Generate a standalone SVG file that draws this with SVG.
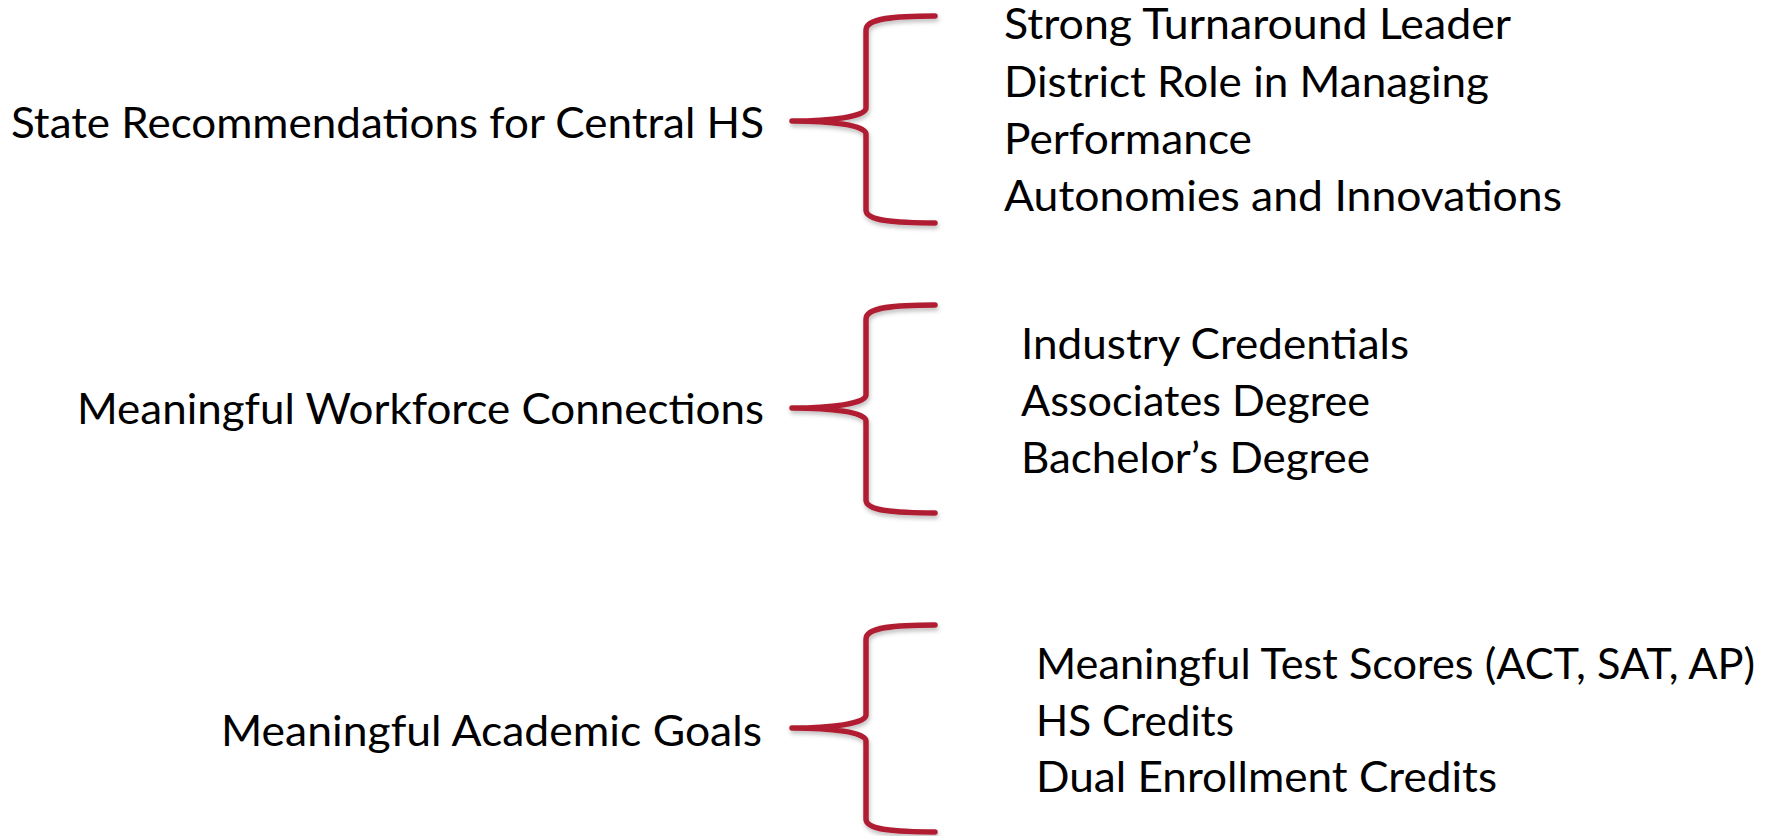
<svg xmlns="http://www.w3.org/2000/svg" width="1775" height="836" viewBox="0 0 1775 836">
  <style>
    .t { font-family: Lato, "Open Sans", "Liberation Sans", sans-serif; font-size: 43px; fill: #000; }
    .r { text-anchor: end; }
    .brace { fill: none; stroke: #B01F32; stroke-width: 5.5; stroke-linecap: round; stroke-linejoin: round; filter: url(#sh); }
  </style>
  <defs>
    <filter id="sh" x="-20%" y="-10%" width="140%" height="130%">
      <feDropShadow dx="1" dy="3" stdDeviation="2" flood-color="#000" flood-opacity="0.25"/>
    </filter>
  </defs>
  <rect width="1775" height="836" fill="#fff"/>

  <g id="connectors">
    <path class="brace" d="M935,16 C895,16 866,18 866,30 L866,108 C866,117 830,121 792,121 C830,121 866,125 866,134 L866,210 C866,221 895,223 935,223"/>
    <path class="brace" d="M935,305 C895,305 866,307 866,319 L866,395 C866,404 830,408 792,408 C830,408 866,412 866,421 L866,500 C866,511 895,513 935,513"/>
    <path class="brace" d="M935,625 C895,625 866,627 866,639 L866,715 C866,724 830,728 792,728 C830,728 866,732 866,741 L866,819 C866,830 895,832 935,832"/>
  </g>

  <g id="node-state">
    <text class="t r" x="764" y="138" textLength="753" lengthAdjust="spacingAndGlyphs">State Recommendations for Central HS</text>
  </g>
  <g id="node-state-items">
    <text class="t" x="1004" y="39" textLength="507" lengthAdjust="spacingAndGlyphs">Strong Turnaround Leader</text>
    <text class="t" x="1004" y="97" textLength="485" lengthAdjust="spacingAndGlyphs">District Role in Managing</text>
    <text class="t" x="1004" y="154" textLength="248" lengthAdjust="spacingAndGlyphs">Performance</text>
    <text class="t" x="1004" y="211" textLength="558" lengthAdjust="spacingAndGlyphs">Autonomies and Innovations</text>
  </g>

  <g id="node-workforce">
    <text class="t r" x="764" y="424" textLength="687" lengthAdjust="spacingAndGlyphs">Meaningful Workforce Connections</text>
  </g>
  <g id="node-workforce-items">
    <text class="t" x="1021" y="359" textLength="388" lengthAdjust="spacingAndGlyphs">Industry Credentials</text>
    <text class="t" x="1021" y="416" textLength="349" lengthAdjust="spacingAndGlyphs">Associates Degree</text>
    <text class="t" x="1021" y="473" textLength="349" lengthAdjust="spacingAndGlyphs">Bachelor’s Degree</text>
  </g>

  <g id="node-academic">
    <text class="t r" x="762" y="746" textLength="541" lengthAdjust="spacingAndGlyphs">Meaningful Academic Goals</text>
  </g>
  <g id="node-academic-items">
    <text class="t" x="1036" y="679" textLength="719" lengthAdjust="spacingAndGlyphs">Meaningful Test Scores (ACT, SAT, AP)</text>
    <text class="t" x="1036" y="736" textLength="198" lengthAdjust="spacingAndGlyphs">HS Credits</text>
    <text class="t" x="1036" y="792" textLength="461" lengthAdjust="spacingAndGlyphs">Dual Enrollment Credits</text>
  </g>
</svg>
